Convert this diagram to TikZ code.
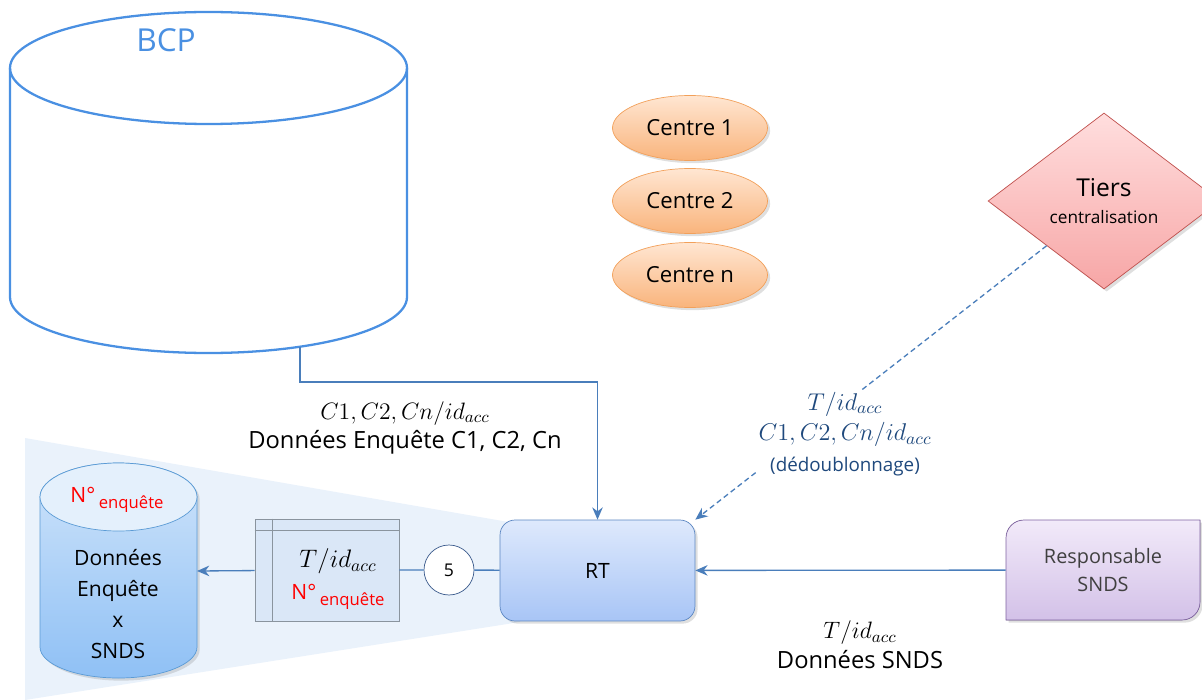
\RequirePackage{fix-cm}
\documentclass[tikz,border=0pt]{standalone}
\usepackage{fontspec}
\setmainfont{Open Sans}
\usetikzlibrary{shapes.geometric,arrows.meta,positioning,shadows}

\definecolor{linkblue}{HTML}{4A7EBB}
\definecolor{bcpblue}{HTML}{4A90E2}
\definecolor{labblue}{HTML}{1F497D}
\definecolor{bgblue}{HTML}{EAF2FB}
\definecolor{centreline}{HTML}{F2A05A}
\definecolor{centretop}{HTML}{FFE6D2}
\definecolor{centrebot}{HTML}{F9B47C}
\definecolor{tiersline}{HTML}{C0504D}
\definecolor{tierstop}{HTML}{FFDEDE}
\definecolor{tiersbot}{HTML}{F7A6A6}
\definecolor{rtline}{HTML}{5B86C2}
\definecolor{rttop}{HTML}{DEE9FC}
\definecolor{rtbot}{HTML}{A8C5F6}
\definecolor{respline}{HTML}{8064A2}
\definecolor{resptop}{HTML}{F2EAF9}
\definecolor{respbot}{HTML}{D3C1E8}
\definecolor{cylline}{HTML}{5B9BD5}
\definecolor{cyltop}{HTML}{CFE4FA}
\definecolor{cylbot}{HTML}{8FC0F5}
\definecolor{cyllid}{HTML}{E4F0FC}
\definecolor{tabline}{HTML}{8A949E}
\definecolor{tabfill}{HTML}{DAE7F7}
\definecolor{fiveline}{HTML}{3A5A8C}

\newcommand{\nenq}{N°\,\raisebox{-0.55ex}{\fontsize{9.5}{11}\selectfont enquête}}

\begin{document}
\begin{tikzpicture}[x=0.02cm,y=-0.02cm,
    link/.style={draw=linkblue,line width=0.75pt},
    arr/.style={link,-{Stealth[length=7pt,width=6pt]}},
    softshadow/.style={drop shadow={opacity=0.25,shadow xshift=1.5pt,shadow yshift=-1.5pt}},
    centre/.style={ellipse,draw=centreline,top color=centretop,bottom color=centrebot,
      minimum width=3.1cm,minimum height=1.3cm,font=\fontsize{12.6}{14}\selectfont,softshadow},
    tiersbox/.style={diamond,aspect=1.32,draw=tiersline,top color=tierstop,bottom color=tiersbot,
      minimum width=4.64cm,minimum height=3.52cm,inner sep=0pt,align=center,softshadow},
    rtbox/.style={rectangle,rounded corners=0.3cm,draw=rtline,top color=rttop,bottom color=rtbot,
      minimum width=3.9cm,minimum height=2.02cm,font=\fontsize{12}{14}\selectfont,softshadow},
    tablebox/.style={rectangle,draw=tabline,fill=tabfill,minimum width=2.88cm,minimum height=2.04cm},
    fivebox/.style={circle,draw=fiveline,fill=white,minimum size=1cm,inner sep=0pt,font=\fontsize{10}{12}\selectfont},
    flowlabel/.style={align=center,font=\fontsize{13.5}{17}\selectfont},
  ]
  \useasboundingbox (0,0) rectangle (1202,699);
  % zone
  \fill[bgblue] (25,438) -- (520,524) -- (520,622) -- (25,700) -- cycle;

  % BCP
  \draw[bcpblue,line width=1.3pt] (10,68) -- (10,297) arc[start angle=180,end angle=0,x radius=198.5,y radius=56] -- (407,68);
  \draw[bcpblue,line width=1.3pt] (208.5,68) ellipse [x radius=198.5,y radius=56];
  \node[text=bcpblue,font=\fontsize{18}{20}\selectfont] (bcp) at (166,40) {BCP};
  \coordinate (bcpout) at (300,347);

  % centres
  \foreach \y/\c [count=\i] in {128/1,201/2,275/n}
    \node[centre] (centre\i) at (690,\y) {Centre \c};

  % tiers
  \node[tiersbox] (tiers) at (1104,201) {{\fontsize{14}{17}\selectfont Tiers}\\[3pt]{\fontsize{9.8}{11}\selectfont centralisation}};

  % RT
  \node[rtbox] (rt) at (597.5,570.5) {RT};

  % responsable
  \filldraw[draw=respline,top color=resptop,bottom color=respbot,softshadow] (1006,620) -- (1006,538)
    .. controls (1006,528) and (1014,520) .. (1024,520) -- (1200,520) -- (1200,602)
    .. controls (1200,612) and (1192,620) .. (1182,620) -- cycle;
  \node[align=center,text=black!75,font=\fontsize{11.3}{16}\selectfont,minimum width=3.88cm,minimum height=2cm] (resp) at (1103,570) {Responsable\\SNDS};

  % enquete x snds
  \path[draw=cylline,top color=cyltop,bottom color=cylbot,softshadow] (40,497) -- (40,647)
    arc[start angle=180,end angle=0,x radius=78.5,y radius=31] -- (197,497)
    arc[start angle=0,end angle=-180,x radius=78.5,y radius=34] -- cycle;
  \draw[cylline,fill=cyllid] (118.5,497) ellipse [x radius=78.5,y radius=34];
  \node[text=red,font=\fontsize{12}{14}\selectfont] (enqtop) at (117,500) {\nenq};
  \node[align=center,font=\fontsize{12}{17.5}\selectfont] (enq) at (118,604) {Données\\Enquête\\x\\SNDS};
  \coordinate (enqin) at (197,571);

  % table
  \node[tablebox] (tab) at (327,570) {};
  \draw[tabline] (tab.north west) ++(0,12) -- ++(144,0);
  \draw[tabline] (tab.north west) ++(18,0) -- ++(0,102);
  \node[align=center,font=\fontsize{12}{18}\selectfont] (tabtxt) at (338,579) {{\fontsize{14.4}{16}\selectfont$T/id_{acc}$}\\{\color{red}\nenq}};
  \node[fivebox] (five) at (449,570) {5};

  % connectors
  \draw[arr] (bcpout) -- ++(0,35) -| (rt.north);
  \draw[arr] (tab) -- (enqin);
  \draw[link] (tab) -- (five) -- (rt);
  \draw[arr] (resp) -- (rt);
  \draw[arr,dash pattern=on 3pt off 2pt] (tiers) -- (rt.north east);

  % labels
  \node[flowlabel] (bcplab) at (405,428) {$C1, C2, Cn/id_{acc}$\\Données Enquête C1, C2, Cn};
  \node[flowlabel] (sndslab) at (860,645) {$T/id_{acc}$\\Données SNDS};
  \node[flowlabel,font=\fontsize{13.8}{17.5}\selectfont,text=labblue,fill=white,inner sep=1pt] (dedlab) at (845,434) {$T/id_{acc}$\\$C1, C2, Cn/id_{acc}$\\{\fontsize{10.7}{12}\selectfont(dédoublonnage)}};
\end{tikzpicture}
\end{document}
